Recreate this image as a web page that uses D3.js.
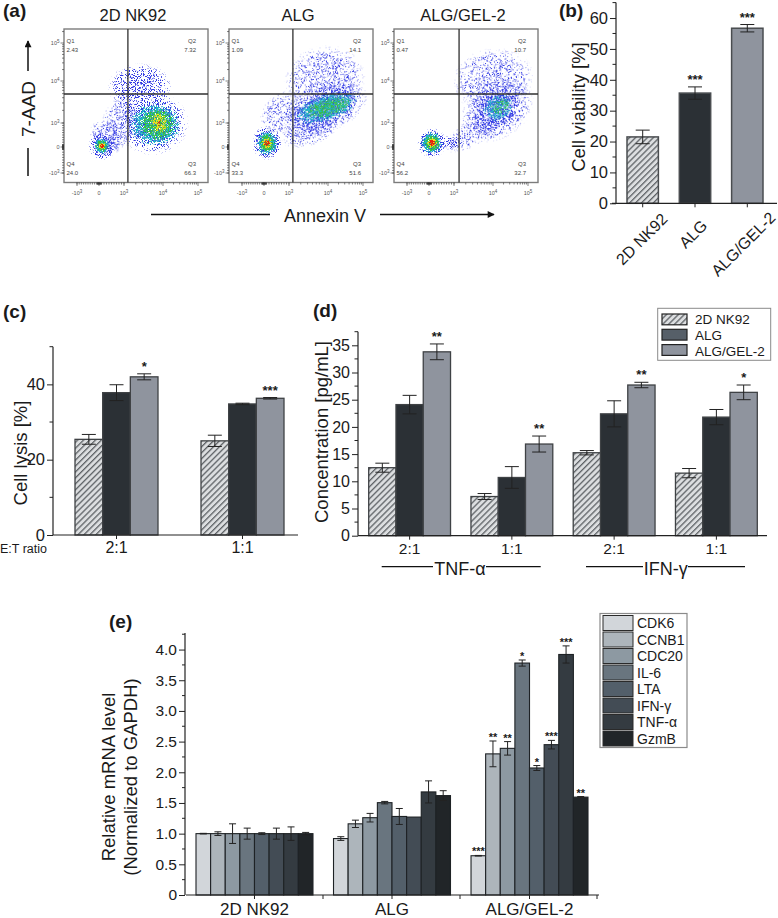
<!DOCTYPE html>
<html><head><meta charset="utf-8">
<script src="https://cdn.jsdelivr.net/npm/d3@7"></script>
<style>html,body{margin:0;padding:0;background:#fff}svg{display:block}text{font-family:"Liberation Sans",Arial,sans-serif;fill:#1a1a1a}</style>
</head><body><div id="c"></div>
<script>
// ---------- panel (a) values ----------
const flowTitles = ["2D NK92","ALG","ALG/GEL-2"];
const flowQ1 = ["2.43","1.09","0.47"];
const flowQ2 = ["7.32","14.1","10.7"];
const flowQ3 = ["66.3","51.6","32.7"];
const flowQ4 = ["24.0","33.3","56.2"];
const flowTicks = [-1,0,1,2,3];
const flowTickBase = ["-10","0","10","10","10"];
const flowTickExp = ["3","","3","4","5"];
const flowGateX = [1.1,1.1,1.13];
const flowGateY = [1.69,1.69,1.69];
// estimated density regions: u, v, du, dv, tilt, density, band (0 blue ... 4 red)
const flowRegions1 = [[1.41,1.85,.95,.6,0,.78,0],[1.5,1.45,.85,.35,0,.66,0],[.85,1.0,.62,.85,15,.66,0],[1.74,.98,1.02,.98,0,.78,0],[.28,.38,.65,.75,-30,.66,0],[1.74,.98,.8,.75,0,1,0],[.12,.04,.58,.58,0,1,0],
 [1.8,.95,.72,.7,0,.85,1],[1.85,.95,.5,.52,0,.8,2],[1.9,1.0,.25,.32,0,.7,3],[1.9,1.0,.07,.11,0,.6,4],
 [.12,.04,.34,.36,0,1,1],[.12,.04,.25,.27,0,1,2],[.12,.04,.16,.17,0,1,3],[.12,.04,.09,.1,0,1,4]];
const flowRegions2 = [[1.92,2.05,1.15,.85,-10,.62,0],[.76,1.24,.85,.55,-40,.58,0],[1.54,.7,.9,.55,-20,.66,0],[1.92,1.36,1.3,.65,-20,.8,0],[1.92,1.36,1.05,.42,-20,1,0],[.12,.17,.65,.7,0,1,0],
 [1.95,1.36,.9,.33,-18,.85,1],[2.0,1.37,.68,.22,-15,.7,2],
 [.12,.17,.46,.52,0,1,1],[.12,.17,.35,.4,0,1,2],[.12,.17,.22,.27,0,1,3],[.12,.17,.13,.17,0,1,4]];
const flowRegions3 = [[2.0,2.03,1.15,.8,-10,.6,0],[1.49,.58,.95,.5,-30,.58,0],[2.11,1.31,1.1,.8,-35,.72,0],[2.11,1.31,.7,.5,-35,1,0],[.72,.17,.6,.28,0,.8,0],[.12,.17,.62,.62,0,1,0],
 [2.15,1.36,.45,.32,-30,.7,1],[2.2,1.38,.3,.18,-30,.55,2],
 [.12,.17,.46,.48,0,1,1],[.12,.17,.35,.37,0,1,2],[.12,.17,.22,.24,0,1,3],[.12,.17,.13,.15,0,1,4]];
// ---------- panel (b) ----------
const viabilityCats = ["2D NK92","ALG","ALG/GEL-2"];
const viabilityVals = [21.5,35.7,56.7];
const viabilityErr = [2.2,2.0,1.2];
const viabilityStars = ["","***","***"];
// ---------- panel (c) ----------
const lysisCats = ["2:1","1:1"];
const lysis2D = [25.4,25.0];
const lysisALG = [37.8,34.8];
const lysisGEL = [42.0,36.3];
const lysis2DErr = [1.3,1.5];
const lysisALGErr = [2.1,0.2];
const lysisGELErr = [0.8,0.2];
const lysisStars = ["*","***"];
// ---------- panel (d) ----------
const cytoCats = ["TNF 2:1","TNF 1:1","IFN 2:1","IFN 1:1"];
const cytoLabels = ["2:1","1:1","2:1","1:1"];
const cyto2D = [12.5,7.2,15.25,11.5];
const cytoALG = [24.1,10.7,22.4,21.8];
const cytoGEL = [33.8,16.85,27.7,26.35];
const cyto2DErr = [.83,.55,.4,.85];
const cytoALGErr = [1.7,2.0,2.4,1.4];
const cytoGELErr = [1.45,1.47,.5,1.35];
const cytoStars = ["**","**","**","*"];
const seriesNames = ["2D NK92","ALG","ALG/GEL-2"];
// ---------- panel (e) ----------
const geneGroups = ["2D NK92","ALG","ALG/GEL-2"];
const genes = ["CDK6","CCNB1","CDC20","IL-6","LTA","IFN-γ","TNF-α","GzmB"];
const mrna2D = [1,1,1,1,1,1,1,1];
const mrnaALG = [.92,1.16,1.26,1.505,1.28,1.27,1.68,1.62];
const mrnaGEL = [.64,2.30,2.39,3.78,2.07,2.45,3.92,1.595];
const mrna2DErr = [.005,.03,.16,.09,.015,.09,.11,.02];
const mrnaALGErr = [.03,.06,.07,.02,.13,0,.18,.08];
const mrnaGELErr = [.005,.21,.11,.05,.04,.07,.14,.01];
const mrnaGELStars = ["***","**","**","*","*","***","***","**"];
const geneColors = ["#d2d6da","#adb5bb","#8d99a2","#69757f","#535f6a","#434c55","#343b41","#212528"];

const svg = d3.select("#c").append("svg").attr("width",778).attr("height",918);
const defs = svg.append("defs");
const FILL2D="url(#hatch)", FILLALG="#2b3035", FILLGEL="#8f949e", EDGE="#3f4245";

const hatch = defs.append("pattern").attr("id","hatch").attr("width",4.2).attr("height",4.2)
  .attr("patternUnits","userSpaceOnUse").attr("patternTransform","rotate(45)");
hatch.append("rect").attr("width",4.2).attr("height",4.2).attr("fill","#dcdee0");
hatch.append("rect").attr("width",1.3).attr("height",4.2).attr("fill","#5f6367");

const bandColors = ["#3038e4","#20b4c8","#38c040","#e8e020","#e62410"];
bandColors.forEach((c,i)=>{
  const g = defs.append("radialGradient").attr("id","band"+i);
  g.append("stop").attr("offset","0%").attr("stop-color",c).attr("stop-opacity",i==0?.66:.98);
  g.append("stop").attr("offset","70%").attr("stop-color",c).attr("stop-opacity",i==0?.48:.8);
  g.append("stop").attr("offset","100%").attr("stop-color",c).attr("stop-opacity",0);
  const f = defs.append("filter").attr("id","speck"+i).attr("x","-10%").attr("y","-10%").attr("width","120%").attr("height","120%")
    .attr("color-interpolation-filters","sRGB");
  f.append("feTurbulence").attr("type","fractalNoise").attr("baseFrequency",1.15).attr("numOctaves",2).attr("seed",3+i*7).attr("result","n");
  f.append("feColorMatrix").attr("in","n").attr("type","matrix")
    .attr("values","0 0 0 0 0 0 0 0 0 0 0 0 0 0 0 3 0 0 0 -1").attr("result","na");
  f.append("feComposite").attr("in","SourceAlpha").attr("in2","na").attr("operator","arithmetic")
    .attr("k1",0).attr("k2",1).attr("k3",1).attr("k4",-1).attr("result","m0");
  const ct=f.append("feComponentTransfer").attr("in","m0").attr("result","mask");
  ct.append("feFuncA").attr("type","linear").attr("slope",3.5);
  f.append("feFlood").attr("flood-color",c).attr("result","fl");
  f.append("feComposite").attr("in","fl").attr("in2","mask").attr("operator","in");
});
const soft = defs.append("filter").attr("id","soft").attr("x","-5%").attr("y","-5%").attr("width","110%").attr("height","110%");
soft.append("feGaussianBlur").attr("stdDeviation",.42);
const marker = defs.append("marker").attr("id","arrow").attr("viewBox","0 0 10 10").attr("refX",9).attr("refY",5)
  .attr("markerWidth",8).attr("markerHeight",7).attr("markerUnits","userSpaceOnUse").attr("orient","auto");
marker.append("path").attr("d","M0 0L10 5L0 10Z").attr("fill","#111");

function label(x,y,t,size,opts={}){
  const s = svg.append("text").attr("x",x).attr("y",y).attr("font-size",size).text(t);
  if(opts.anchor) s.attr("text-anchor",opts.anchor);
  if(opts.weight) s.attr("font-weight",opts.weight);
  if(opts.rotate!==undefined) s.attr("transform",`rotate(${opts.rotate} ${x} ${y})`);
  return s;
}
[["(a)",3,17],["(b)",559,17],["(c)",3,318],["(d)",313,317],["(e)",109,628]].forEach(d=>label(d[1],d[2],d[0],19,{weight:"bold"}));

// ---------- (a) ----------
const flowRegions=[flowRegions1,flowRegions2,flowRegions3];
const flowLeft=[64,229,394];
const biex = v => v===0?0:(Math.abs(v)<=1000? v/1000 : Math.sign(v)*(Math.log10(Math.abs(v))-2));
const minorVals = [...d3.range(-1000,1001,100),...d3.range(-90,91,15),
  ...d3.range(2000,10000,1000),...d3.range(20000,100000,10000),...d3.range(200000,300000,100000)];
flowTitles.forEach((title,i)=>{
  const off=flowLeft[i]-64;
  const x=d3.scaleLinear().domain(flowTicks).range([77,99,124,163,198].map(p=>p+off));
  const y=d3.scaleLinear().domain(flowTicks).range([173,147,123,81,43]);
  const L=flowLeft[i],R=L+144,T=29,B=182.5;
  const id="clipf"+i;
  defs.append("clipPath").attr("id",id).append("rect").attr("x",L).attr("y",T).attr("width",144).attr("height",B-T);
  const g=svg.append("g").attr("clip-path",`url(#${id})`).append("g").attr("filter","url(#soft)");
  g.selectAll("ellipse").data(flowRegions[i]).join("ellipse")
    .attr("cx",d=>x(d[0])).attr("cy",d=>y(d[1]))
    .attr("rx",d=>Math.abs(x(d[0]+d[2])-x(d[0]-d[2]))/2)
    .attr("ry",d=>Math.abs(y(d[1]+d[3])-y(d[1]-d[3]))/2)
    .attr("transform",d=>`rotate(${d[4]} ${x(d[0])} ${y(d[1])})`)
    .attr("fill",d=>`url(#band${d[6]})`).attr("fill-opacity",d=>d[5])
    .attr("filter",d=>`url(#speck${d[6]})`);
  svg.append("rect").attr("x",L).attr("y",T).attr("width",144).attr("height",B-T).attr("fill","none").attr("stroke","#7c7c7c").attr("stroke-width",1.4);
  svg.append("line").attr("x1",x(flowGateX[i])).attr("x2",x(flowGateX[i])).attr("y1",T).attr("y2",B).attr("stroke","#2e2e2e").attr("stroke-width",1.3);
  svg.append("line").attr("x1",L).attr("x2",R).attr("y1",y(flowGateY[i])).attr("y2",y(flowGateY[i])).attr("stroke","#2e2e2e").attr("stroke-width",1.3);
  const ag=svg.append("g").attr("stroke","#333").attr("stroke-width",.6);
  minorVals.forEach(v=>{
    const u=biex(v);
    if(x(u)>L&&x(u)<R) ag.append("line").attr("x1",x(u)).attr("x2",x(u)).attr("y1",B).attr("y2",B+2);
    if(y(u)>T&&y(u)<B) ag.append("line").attr("y1",y(u)).attr("y2",y(u)).attr("x1",L).attr("x2",L-2);
  });
  flowTicks.forEach((t,k)=>{
    ag.append("line").attr("x1",x(t)).attr("x2",x(t)).attr("y1",B).attr("y2",B+3.5);
    ag.append("line").attr("y1",y(t)).attr("y2",y(t)).attr("x1",L).attr("x2",L-3.5);
    [[x(t),195,"middle"],[L-4.5,y(t)+2,"end"]].forEach(p=>{
      const tx=svg.append("text").attr("x",p[0]).attr("y",p[1]).attr("text-anchor",p[2]).attr("font-size",5.5).style("fill","#555");
      tx.append("tspan").text(flowTickBase[k]);
      if(flowTickExp[k]) tx.append("tspan").attr("dy",-2).attr("font-size",4.5).text(flowTickExp[k]);
    });
  });
  const qc=s=>s.style("fill","#444");
  qc(label(L+2.5,43,"Q1",6)); qc(label(L+2.5,52,flowQ1[i],6));
  qc(label(R-12,43,"Q2",6,{anchor:"end"})); qc(label(R-12,52,flowQ2[i],6,{anchor:"end"}));
  qc(label(L+2.5,166,"Q4",6)); qc(label(L+2.5,175,flowQ4[i],6));
  qc(label(R-12,166,"Q3",6,{anchor:"end"})); qc(label(R-12,175,flowQ3[i],6,{anchor:"end"}));
  label((L+R)/2-3,21,title,16.5,{anchor:"middle"});
});
label(35,109,"7-AAD",19,{anchor:"middle",rotate:-90});
svg.append("line").attr("x1",28).attr("x2",28).attr("y1",71).attr("y2",41).attr("stroke","#111").attr("stroke-width",1.5).attr("marker-end","url(#arrow)");
svg.append("line").attr("x1",28).attr("x2",28).attr("y1",148).attr("y2",176).attr("stroke","#111").attr("stroke-width",1.5);
label(325,222,"Annexin V",18,{anchor:"middle"});
svg.append("line").attr("x1",151).attr("x2",270).attr("y1",214.5).attr("y2",214.5).attr("stroke","#111").attr("stroke-width",1.5);
svg.append("line").attr("x1",380).attr("x2",494).attr("y1",214.5).attr("y2",214.5).attr("stroke","#111").attr("stroke-width",1.5).attr("marker-end","url(#arrow)");

// ---------- shared ----------
function yAxis(x0,y,majors,minors,fmt,size,lenMaj=6,lenMin=3.5){
  const g=svg.append("g").attr("transform",`translate(${x0},0)`);
  g.call(d3.axisLeft(y).tickValues(majors).tickSize(lenMaj).tickFormat(fmt).tickPadding(2));
  g.selectAll(".tick line").attr("stroke","#222").attr("stroke-width",1);
  g.select(".domain").attr("stroke","#222").attr("stroke-width",1.2).attr("d",`M0,${y.range()[0]}V${y.range()[1]}`);
  g.selectAll("text").attr("font-size",size).attr("font-family",null).style("fill","#1a1a1a");
  const m=svg.append("g").attr("transform",`translate(${x0},0)`);
  m.selectAll("line").data(minors).join("line").attr("x1",-lenMin).attr("x2",0).attr("y1",d=>y(d)).attr("y2",d=>y(d)).attr("stroke","#222");
}
function xAxis(y0,scale,x1,x2,size,labels,show=true,pad=3){
  const g=svg.append("g").attr("transform",`translate(0,${y0})`);
  g.call(d3.axisBottom(scale).tickSize(4).tickPadding(pad).tickFormat((d,i)=>show?(labels?labels[i]:d):""));
  g.select(".domain").attr("stroke","#222").attr("stroke-width",1.2).attr("d",`M${x1},0H${x2}`);
  g.selectAll(".tick line").attr("stroke","#222");
  g.selectAll("text").attr("font-size",size).attr("font-family",null).style("fill","#1a1a1a");
}
function bar(x,w,y,v,e,fill,star,opt={}){
  const y0=y(0);
  svg.append("rect").attr("x",x).attr("y",y(v)).attr("width",w).attr("height",y0-y(v)).attr("fill",fill)
    .attr("stroke",opt.edge||EDGE).attr("stroke-width",opt.sw||1.3);
  const cx=x+w/2, cap=opt.cap||5;
  const c=opt.err||"#222";
  if(e>0){
    svg.append("line").attr("x1",cx).attr("x2",cx).attr("y1",y(v+e)).attr("y2",y(v-e)).attr("stroke",c).attr("stroke-width",1);
    [v+e,v-e].forEach(k=>svg.append("line").attr("x1",cx-cap).attr("x2",cx+cap).attr("y1",y(k)).attr("y2",y(k)).attr("stroke",c).attr("stroke-width",1));
  }
  if(star) label(cx,y(v+e)-(opt.starGap||8)+5,star,opt.starSize||13,{anchor:"middle",weight:"bold"});
}

// ---------- (b) ----------
{
  const y=d3.scaleLinear().domain([0,65]).range([203.3,2.6]);
  const x=d3.scaleBand().domain(viabilityCats).range([627,763]).paddingInner(.4);
  viabilityCats.forEach((c,i)=>bar(x(c),x.bandwidth(),y,viabilityVals[i],viabilityErr[i],[FILL2D,FILLALG,FILLGEL][i],viabilityStars[i],{cap:7,edge:"#4a4d50",sw:1.5}));
  yAxis(616,y,d3.range(0,61,10),d3.range(5,66,10),d3.format("d"),16.5);
  xAxis(203.3,x,612,777,16,null,false);
  const nudge=[[3,238],[2,233],[0,243]];
  viabilityCats.forEach((c,i)=>{
    const px=x(c)+x.bandwidth()/2+nudge[i][0], py=nudge[i][1];
    label(px,py+5,c,16,{anchor:"middle",rotate:-45});
  });
  label(585,107,"Cell viability [%]",18.5,{anchor:"middle",rotate:-90});
}

// ---------- (c) ----------
{
  const y=d3.scaleLinear().domain([0,50]).range([535,346.7]);
  const x=d3.scaleBand().domain(lysisCats).range([75,284]).paddingInner(43/126);
  const x1=d3.scaleBand().domain(seriesNames).range([0,x.bandwidth()]);
  lysisCats.forEach((c,i)=>{
    [[lysis2D,lysis2DErr,FILL2D],[lysisALG,lysisALGErr,FILLALG],[lysisGEL,lysisGELErr,FILLGEL]].forEach((s,j)=>
      bar(x(c)+x1(seriesNames[j]),x1.bandwidth(),y,s[0][i],s[1][i],s[2],j==2?lysisStars[i]:"",{cap:7}));
  });
  yAxis(53,y,[0,20,40],[10,30,50],d3.format("d"),16.5);
  xAxis(535,x,53,298,16);
  label(27,453,"Cell lysis [%]",18.5,{anchor:"middle",rotate:-90});
  label(0,553,"E:T ratio",12.5);
}

// ---------- (d) ----------
{
  const y=d3.scaleLinear().domain([0,37.5]).range([535.7,331.7]);
  const x=d3.scaleBand().domain(cytoCats).range([368.7,757.3]).paddingInner(20.5/102.6);
  const x1=d3.scaleBand().domain(seriesNames).range([0,x.bandwidth()]);
  cytoCats.forEach((c,i)=>{
    [[cyto2D,cyto2DErr,FILL2D],[cytoALG,cytoALGErr,FILLALG],[cytoGEL,cytoGELErr,FILLGEL]].forEach((s,j)=>
      bar(x(c)+x1(seriesNames[j]),x1.bandwidth(),y,s[0][i],s[1][i],s[2],j==2?cytoStars[i]:"",{cap:7}));
  });
  yAxis(358,y,d3.range(0,36,5),d3.range(2.5,38,5),d3.format("d"),16);
  xAxis(535.7,x,358,767,15.5,cytoLabels);
  label(328,432,"Concentration [pg/mL]",18.5,{anchor:"middle",rotate:-90});
  [["TNF-α",460,[[381.7,433],[486,540.7]]],["IFN-γ",665.7,[[586,643],[688,745]]]].forEach(d=>{
    label(d[1],575,d[0],18,{anchor:"middle"});
    d[2].forEach(s=>svg.append("line").attr("x1",s[0]).attr("x2",s[1]).attr("y1",566.7).attr("y2",566.7).attr("stroke","#111").attr("stroke-width",1.3));
  });
  svg.append("rect").attr("x",657.7).attr("y",308.3).attr("width",113).attr("height",52).attr("fill","#fff").attr("stroke","#8a8a8a").attr("stroke-width",1);
  seriesNames.forEach((n,i)=>{
    svg.append("rect").attr("x",662).attr("y",314+i*15.3).attr("width",25).attr("height",10.8)
      .attr("fill",[FILL2D,"#565f68","#8f949e"][i]).attr("stroke","#222").attr("stroke-width",1.2);
    label(695,324+i*15.8,n,13.5);
  });
}

// ---------- (e) ----------
{
  const y=d3.scaleLinear().domain([0,4.27]).range([895,633]);
  const x=d3.scaleBand().domain(geneGroups).range([196,588]).paddingInner(20.5/137.25);
  const x1=d3.scaleBand().domain(genes).range([0,x.bandwidth()]);
  [[mrna2D,mrna2DErr,[]],[mrnaALG,mrnaALGErr,[]],[mrnaGEL,mrnaGELErr,mrnaGELStars]].forEach((s,gi)=>{
    genes.forEach((g,j)=>bar(x(geneGroups[gi])+x1(g),x1.bandwidth(),y,s[0][j],s[1][j],geneColors[j],s[2][j]||"",
      {cap:3.5,starGap:5,starSize:11,edge:"#1e2225",sw:1.1}));
  });
  yAxis(185,y,d3.range(0,4.1,.5),d3.range(.25,4.3,.5),d=>d===0?"0":d3.format(".1f")(d),15.5,6,3);
  xAxis(895,x,186,599,17,null,true,4);
  [323,460,597].forEach(t=>svg.append("line").attr("x1",t).attr("x2",t).attr("y1",895).attr("y2",899).attr("stroke","#222"));
  label(115,777,"Relative mRNA level",18.5,{anchor:"middle",rotate:-90});
  label(137,777,"(Normalized to GAPDH)",18.5,{anchor:"middle",rotate:-90});
  svg.append("rect").attr("x",600).attr("y",613.5).attr("width",87).attr("height",134).attr("fill","#fff").attr("stroke","#8a8a8a").attr("stroke-width",1.2);
  genes.forEach((n,i)=>{
    svg.append("rect").attr("x",603).attr("y",615.5+i*16.5).attr("width",30).attr("height",15)
      .attr("fill",geneColors[i]).attr("stroke","#2a2a2a").attr("stroke-width",1);
    label(637,628+i*16.5,n,14);
  });
}
</script></body></html>
